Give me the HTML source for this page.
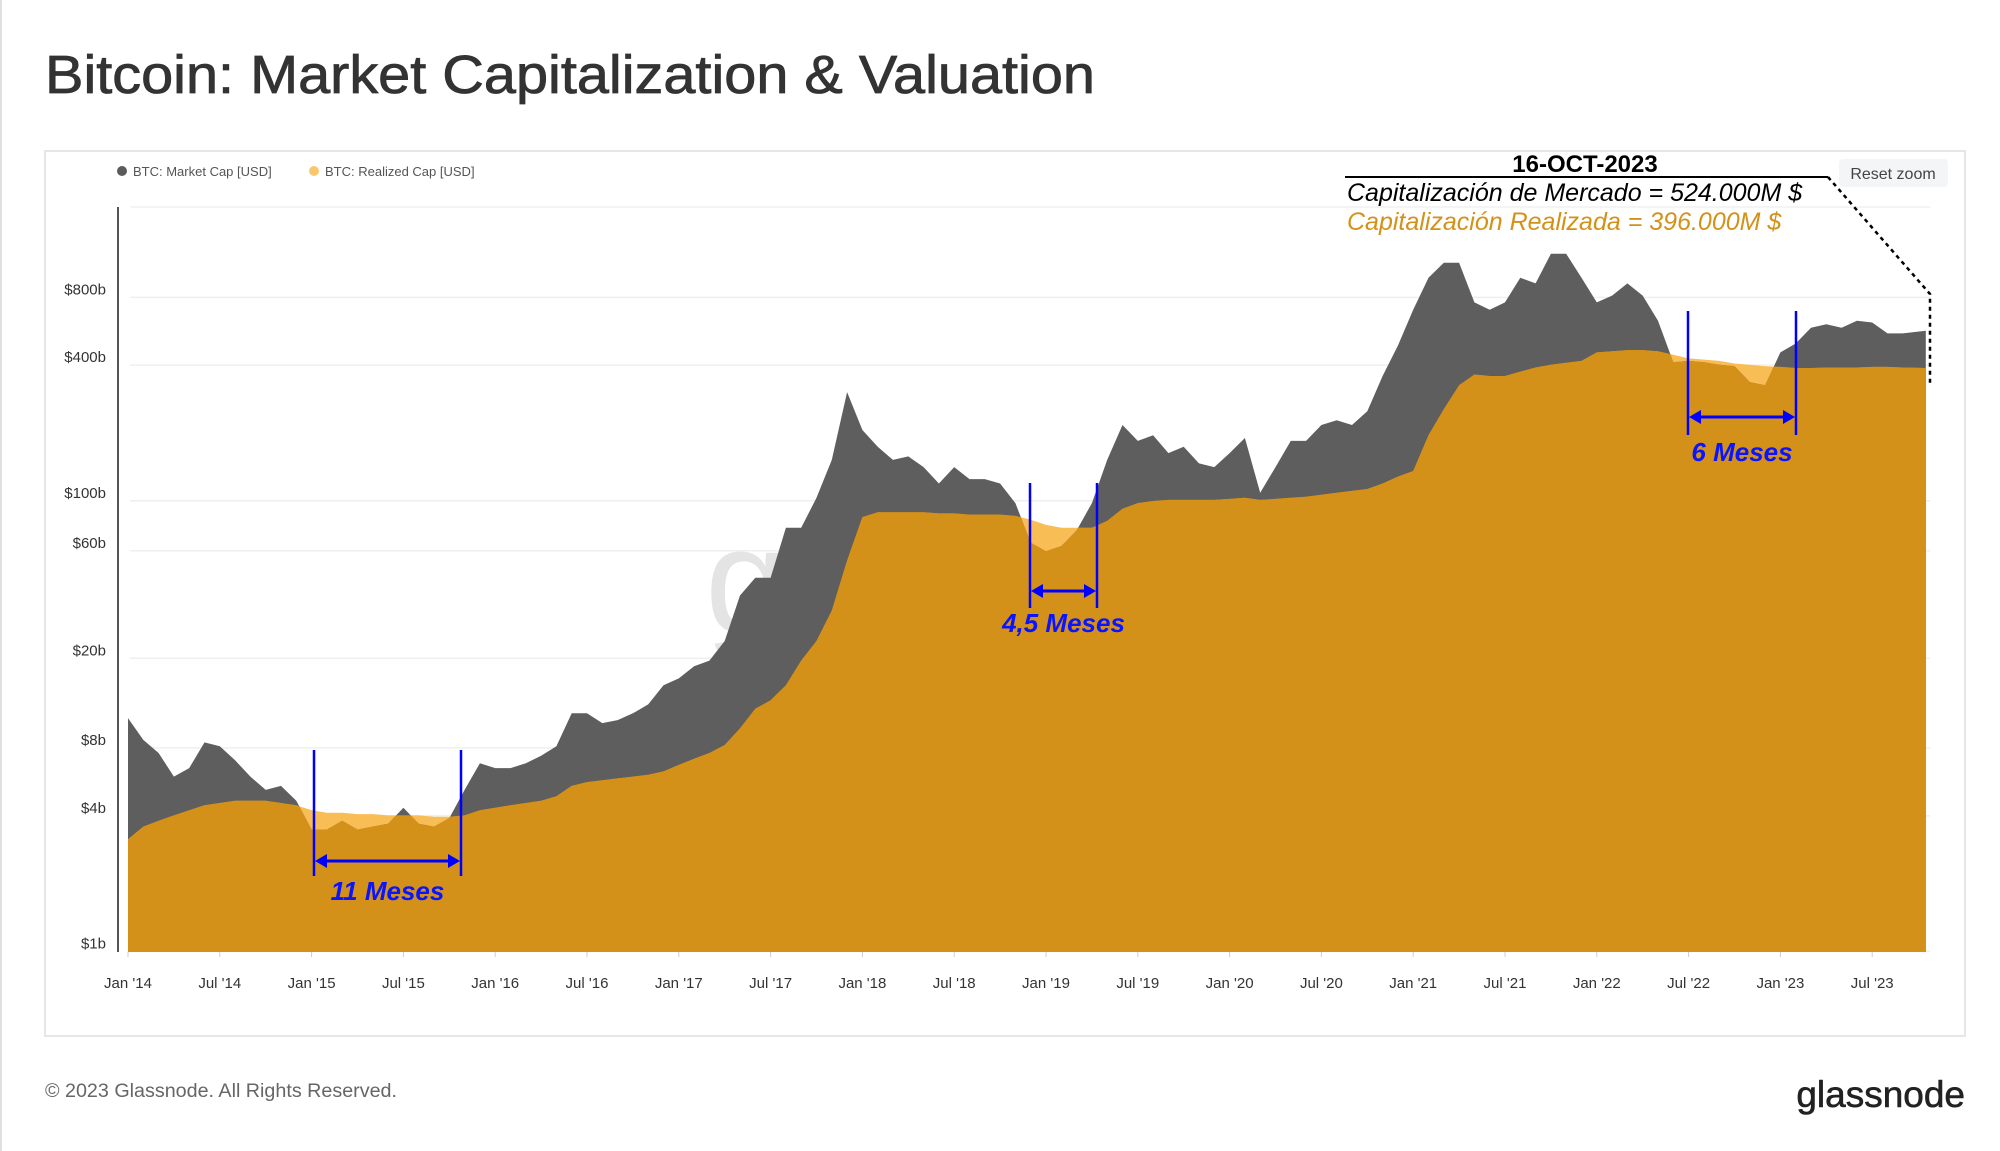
<!DOCTYPE html>
<html><head><meta charset="utf-8"><style>
html,body{margin:0;padding:0;background:#fff;}
body{width:2000px;height:1151px;overflow:hidden;position:relative;font-family:"Liberation Sans",sans-serif;}
</style></head><body>
<div style="position:absolute;left:0;top:0;width:2px;height:1151px;background:#e0e0e0"></div>
<svg id="c" width="2000" height="1151" style="position:absolute;left:0;top:0">
<text x="45" y="93" font-size="54" fill="#333" stroke="#333" stroke-width="0.8" textLength="1050" lengthAdjust="spacingAndGlyphs" font-family="Liberation Sans, sans-serif">Bitcoin: Market Capitalization &amp; Valuation</text>
<rect x="45" y="151" width="1920" height="885" fill="none" stroke="#e6e6e6" stroke-width="2"/>
<g>
<circle cx="122" cy="171" r="5" fill="#5b5b5b"/>
<text x="133" y="176" font-size="13" fill="#555">BTC: Market Cap [USD]</text>
<circle cx="314" cy="171" r="5" fill="#f9c86d"/>
<text x="325" y="176" font-size="13" fill="#555">BTC: Realized Cap [USD]</text>
</g>
<g id="grid"></g>
<text x="705" y="632" font-size="150" fill="#e4e4e4">g</text>
<g id="areas"></g><g id="axes"></g>
<g>
<rect x="1839" y="159" width="109" height="28" rx="4" fill="#f4f5f7"/>
<text x="1893" y="179" font-size="16" fill="#444" text-anchor="middle">Reset zoom</text>
</g>
<g>
<text x="1585" y="172" font-size="24" font-weight="bold" fill="#000" text-anchor="middle">16-OCT-2023</text>
<line x1="1345" y1="177" x2="1828" y2="177" stroke="#000" stroke-width="2"/>
<text x="1347" y="201" font-size="25" font-style="italic" fill="#000">Capitalización de Mercado = 524.000M $</text>
<text x="1347" y="230" font-size="25" font-style="italic" fill="#d4911a">Capitalización Realizada = 396.000M $</text>
<polyline points="1828,177 1930,294 1930,384" fill="none" stroke="#000" stroke-width="2.5" stroke-dasharray="4,4"/>
</g>
<g id="ann"></g>
<text x="45" y="1097" font-size="19" fill="#666" textLength="352" lengthAdjust="spacingAndGlyphs">© 2023 Glassnode. All Rights Reserved.</text>
<text x="1965" y="1107" font-size="37" fill="#222" stroke="#222" stroke-width="0.6" text-anchor="end">glassnode</text>
</svg>
<script>
const marketCap = [10,8,7,5.5,6,7.8,7.5,6.5,5.5,4.8,5,4.3,
3.2,3.2,3.5,3.2,3.3,3.4,4.0,3.4,3.3,3.6,4.8,6.3,
6,6,6.3,6.8,7.5,10.5,10.5,9.5,9.8,10.5,11.5,14,
15,17,18,22,35,42,42,70,70,95,140,280,
190,160,140,145,130,110,130,115,115,110,90,60,
55,58,68,90,140,200,170,180,150,160,135,130,
150,175,100,130,170,170,200,210,200,230,330,450,
650,900,1050,1050,700,650,700,900,850,1150,1150,900,
700,750,850,750,580,380,385,380,370,365,310,300,
420,460,540,560,540,580,570,510,510,524];
const realizedCap = [2.9,3.3,3.5,3.7,3.9,4.1,4.2,4.3,4.3,4.3,4.2,4.1,
3.9,3.8,3.8,3.75,3.75,3.7,3.7,3.7,3.65,3.65,3.7,3.9,
4.0,4.1,4.2,4.3,4.5,5.0,5.2,5.3,5.4,5.5,5.6,5.8,
6.2,6.6,7.0,7.6,9,11,12,14,18,22,30,50,
78,82,82,82,82,81,81,80,80,80,79,76,
72,70,70,70,75,85,90,92,93,93,93,93,
94,95,93,94,95,96,98,100,102,104,110,118,
125,180,235,300,335,330,330,345,360,370,378,385,
420,425,430,430,425,410,395,390,385,375,370,365,
362,358,358,360,360,360,362,362,360,358];
const yTickValues = [1,4,8,20,60,100,400,800];
const yTickLabels = ["$1b","$4b","$8b","$20b","$60b","$100b","$400b","$800b"];
const xTickLabels = ["Jan '14","Jul '14","Jan '15","Jul '15","Jan '16","Jul '16","Jan '17","Jul '17","Jan '18","Jul '18","Jan '19","Jul '19","Jan '20","Jul '20","Jan '21","Jul '21","Jan '22","Jul '22","Jan '23","Jul '23"];

const NS="http://www.w3.org/2000/svg";
const X0=128, MPX=15.3, Y1=943.4, DEC=225.3, BOT=952, TOP=207;
function xOf(m){return X0+m*MPX;}
function yOf(v){return Y1-Math.log10(v)*DEC;}
function mk(tag,attrs,parent){const e=document.createElementNS(NS,tag);for(const k in attrs)e.setAttribute(k,attrs[k]);parent.appendChild(e);return e;}
const grid=document.getElementById('grid'),areas=document.getElementById('areas'),axes=document.getElementById('axes'),ann=document.getElementById('ann');
mk('line',{x1:130,x2:1930,y1:TOP,y2:TOP,stroke:'#f0f0f0','stroke-width':1.5},grid);
yTickValues.forEach((v,i)=>{
  const y=yOf(v);
  const gl=mk('line',{x1:130,x2:1930,y1:y+8,y2:y+8,stroke:'#efefef','stroke-width':1.5},grid);
  
  
  const t=mk('text',{x:106,y:y+5,'font-size':15,fill:'#333','text-anchor':'end'},axes);
  t.textContent=yTickLabels[i];
  
  
});
xTickLabels.forEach((l,i)=>{
  const x=xOf(i*6);
  const t=mk('text',{x:x,y:988,'font-size':15,fill:'#333','text-anchor':'middle'},axes);
  t.textContent=l;
  
  
  mk('line',{x1:x,x2:x,y1:BOT,y2:BOT+5,stroke:'#ccc'},axes);
});
const yax=mk('line',{x1:118,x2:118,y1:TOP,y2:BOT,stroke:'#555','stroke-width':2},axes);


function mOf(i,n){return i===n-1?i+0.5:i;}
function areaPath(arr){let d='M'+xOf(0)+','+BOT;arr.forEach((v,i)=>{d+=' L'+xOf(mOf(i,arr.length)).toFixed(1)+','+yOf(v).toFixed(1);});d+=' L'+xOf(mOf(arr.length-1,arr.length))+','+BOT+' Z';return d;}
const defs=mk('defs',{},areas);
const cp=mk('clipPath',{id:'mclip'},defs);
mk('path',{d:areaPath(marketCap)},cp);
const cp2=mk('clipPath',{id:'rclip'},defs);
mk('path',{d:areaPath(realizedCap)},cp2);
const pl=mk('path',{d:areaPath(realizedCap),fill:'#f9bd55'},areas);


const pm=mk('path',{d:areaPath(marketCap),fill:'#5e5e5e'},areas);


const pr=mk('path',{d:areaPath(realizedCap),fill:'#d4911a','clip-path':'url(#mclip)'},areas);


const pr2=mk('path',{d:areaPath(marketCap),fill:'#d4911a','clip-path':'url(#rclip)'},areas);


const periods=[{x1:314,x2:461,yt:750,yb:876,ya:861,ty:900,label:"11 Meses"},
{x1:1030,x2:1097,yt:483,yb:608,ya:591,ty:632,label:"4,5 Meses"},
{x1:1688,x2:1796,yt:311,yb:435,ya:417,ty:461,label:"6 Meses"}];
periods.forEach(p=>{
  const g=mk('g',{},ann);
  
  
  mk('line',{x1:p.x1,x2:p.x1,y1:p.yt,y2:p.yb,stroke:'#0000ff','stroke-width':2.5},g);
  mk('line',{x1:p.x2,x2:p.x2,y1:p.yt,y2:p.yb,stroke:'#0000ff','stroke-width':2.5},g);
  mk('line',{x1:p.x1+8,x2:p.x2-8,y1:p.ya,y2:p.ya,stroke:'#0000ff','stroke-width':3},g);
  mk('polygon',{points:`${p.x1+1},${p.ya} ${p.x1+13},${p.ya-7} ${p.x1+13},${p.ya+7}`,fill:'#0000ff'},g);
  mk('polygon',{points:`${p.x2-1},${p.ya} ${p.x2-13},${p.ya-7} ${p.x2-13},${p.ya+7}`,fill:'#0000ff'},g);
  const t=mk('text',{x:(p.x1+p.x2)/2,y:p.ty,'font-size':26,'font-weight':'bold','font-style':'italic',fill:'#0a14ff','text-anchor':'middle'},g);
  t.textContent=p.label;
});
</script>
</body></html>
